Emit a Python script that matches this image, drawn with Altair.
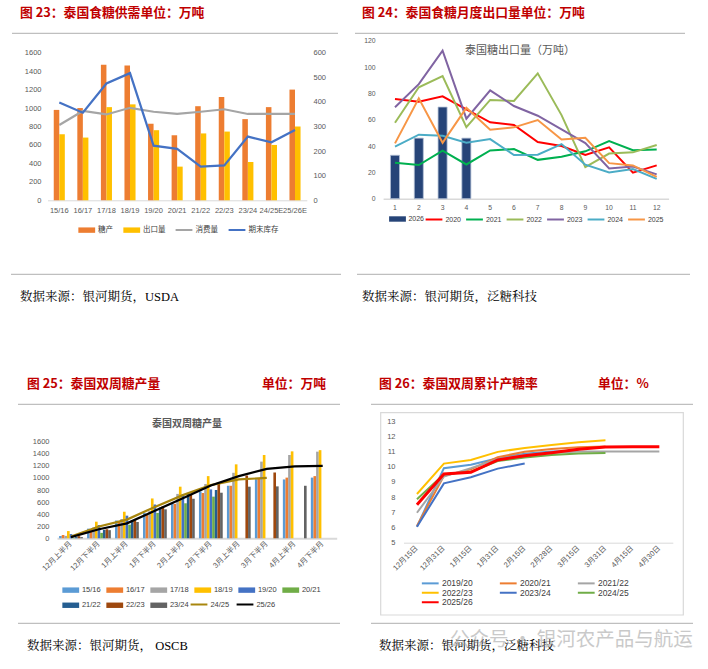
import altair as alt
import pandas as pd

# ---------------- data: 图23 泰国食糖供需 ----------------
p1_years = ["15/16", "16/17", "17/18", "18/19", "19/20", "20/21", "21/22", "22/23", "23/24", "24/25E", "25/26E"]
p1_production = [980, 1000, 1470, 1460, 830, 705, 1020, 1120, 880, 1010, 1200]
p1_export = [715, 680, 1010, 1040, 760, 365, 725, 745, 415, 600, 800]
p1_consumption = [306, 363, 349, 376, 360, 351, 360, 370, 351, 351, 351]
p1_stock = [398, 356, 475, 517, 222, 209, 137, 142, 259, 236, 286]
p1_bar_names = ["糖产", "出口量"]
p1_line_names = ["消费量", "期末库存"]
p1_left_ticks = [0, 200, 400, 600, 800, 1000, 1200, 1400, 1600]
p1_right_ticks = [0, 100, 200, 300, 400, 500, 600]

# ---------------- data: 图24 泰国食糖月度出口量 ----------------
p2_months = [1, 2, 3, 4, 5, 6, 7, 8, 9, 10, 11, 12]
p2_2026 = [33, 46, 69.6, 46]
p2_2020 = [75.7, 73.7, 77.7, 67.8, 58, 56, 43, 40, 33.2, 39, 19.8, 25.3]
p2_2021 = [27.3, 25.6, 36.5, 26, 36.7, 37.7, 29.5, 31.8, 36, 43.7, 36.8, 37.3]
p2_2022 = [57.7, 84.6, 93.2, 54.4, 75, 74.2, 95.2, 63.5, 24, 34.3, 35.2, 40.8]
p2_2023 = [69.4, 87, 112.4, 60.8, 82.3, 70.4, 63, 52.6, 42.2, 23, 24.5, 18.5]
p2_2024 = [39.5, 48.6, 47.8, 42.5, 45.3, 33.2, 33.4, 41.5, 25.8, 20, 22.5, 15]
p2_2025 = [42, 76.2, 42.5, 69, 52.4, 54.2, 59.7, 45, 46.3, 27, 25.3, 16.6]
p2_line_names = ["2020", "2021", "2022", "2023", "2024", "2025"]
p2_ticks = [0, 20, 40, 60, 80, 100, 120]

# ---------------- data: 图25 泰国双周糖产量 ----------------
p3_periods = ["12月上半月", "12月下半月", "1月上半月", "1月下半月", "2月上半月",
              "2月下半月", "3月上半月", "3月下半月", "4月上半月", "4月下半月"]
p3_bar_names = ["15/16", "16/17", "17/18", "18/19", "19/20", "20/21", "21/22", "22/23", "23/24"]
p3_1516 = [40, 160, 295, 420, 580, 775, 870, 980, 975, 1005]
p3_1617 = [55, 135, 280, 400, 570, 750, 870, 1000, 1005, 1030]
p3_1718 = [40, 180, 320, 450, 735, 900, 1085, 1270, 1380, 1435]
p3_1819 = [120, 275, 440, 660, 855, 1030, 1225, 1380, 1440, 1460]
p3_1920 = [70, 220, 375, 560, 730, 810]
p3_2021 = [10, 90, 225, 420, 580, 690]
p3_2122 = [20, 140, 300, 510, 740, 800]
p3_2223 = [35, 150, 300, 530, 730, 900, 1040, 1090]
p3_2324 = [20, 135, 270, 480, 655, 755, 855, 860, 870]
p3_line_names = ["24/25", "25/26"]
p3_2425 = [30, 195, 310, 520, 715, 880, 975, 1000]
p3_2526 = [20, 150, 248, 455, 665, 875, 1030, 1150, 1190, 1200]
p3_ticks = [0, 200, 400, 600, 800, 1000, 1200, 1400, 1600]

# ---------------- data: 图26 泰国双周累计产糖率 ----------------
p4_dates = ["12月15日", "12月31日", "1月15日", "1月31日", "2月15日",
            "2月28日", "3月15日", "3月31日", "4月15日", "4月30日"]
p4_names = ["2019/20", "2020/21", "2021/22", "2022/23", "2023/24", "2024/25", "2025/26"]
p4_1920 = [6.05, 9.9, 10.13, 10.55, 10.85, 11.0, 11.05]
p4_2021 = [6.1, 9.4, 9.82, 10.62, 10.98, 11.16, 11.27, 11.32]
p4_2122 = [6.97, 9.35, 9.9, 10.5, 10.77, 10.9, 11.0, 11.0, 11.0, 11.0]
p4_2223 = [8.2, 10.2, 10.44, 10.97, 11.23, 11.43, 11.6, 11.73]
p4_2324 = [6.05, 8.9, 9.3, 9.87, 10.2]
p4_2425 = [7.85, 9.5, 9.67, 10.37, 10.6, 10.77, 10.86, 10.9]
p4_2526 = [7.5, 9.52, 9.63, 10.44, 10.72, 10.92, 11.14, 11.29, 11.3, 11.3]
p4_ticks = [5, 6, 7, 8, 9, 10, 11, 12, 13]

# ---------------- styling helpers ----------------
LATIN = "Liberation Sans, Noto Sans CJK SC"
CJK = "Noto Sans CJK SC"
SERIF = "Liberation Serif, Noto Serif CJK SC, Noto Sans CJK SC"
RED = "#C00000"
LABEL = "#595959"
SEP = "#BFBFBF"
PW, TH, BH = 354, 335, 334

RECT = "M-2.8,-0.9L2.8,-0.9L2.8,0.9L-2.8,0.9Z"
LINE = "M-2.8,0L2.8,0"

one = alt.Data(values=[{"a": 1}])


def txt(s, x, y, size, color, weight="normal", font=CJK, align="left", opacity=1.0):
    return alt.Chart(one).mark_text(text=s, align=align, baseline="middle", font=font,
                                    fontSize=size, fontWeight=weight, color=color,
                                    opacity=opacity).encode(x=alt.value(x), y=alt.value(y))


def hline(x1, x2, y, color=SEP, w=1.2):
    return alt.Chart(one).mark_rule(color=color, strokeWidth=w).encode(
        x=alt.value(x1), x2=alt.value(x2), y=alt.value(y))


def canvas(w, h):
    return alt.Chart(one).mark_rect(fill="white", opacity=0).encode(
        x=alt.value(0), x2=alt.value(w), y=alt.value(0), y2=alt.value(h))


def xaxis(offset, size, angle=None, pad=5, dw=1.0):
    kw = dict(title=None, ticks=False, grid=False, domainColor="#D9D9D9", domainWidth=dw,
              labelFont=LATIN, labelFontSize=size, labelColor=LABEL, offset=offset,
              labelPadding=pad, labelOverlap=False)
    if angle is None:
        kw["labelAngle"] = 0
    else:
        kw.update(labelAngle=angle, labelAlign="right", labelBaseline="middle")
    return alt.Axis(**kw)


def yaxis(offset, values, size, orient="left"):
    return alt.Axis(title=None, orient=orient, values=values, format="d", domain=False, ticks=False,
                    grid=False, labelFont=LATIN, labelFontSize=size, labelColor=LABEL,
                    offset=offset, labelPadding=4, labelOverlap=False)


def legend(x, y, rect=True, cols=None, size=7.0, offset=7.4, colpad=6.0, rowpad=2.0):
    kw = dict(orient="none", legendX=x, legendY=y, direction="horizontal", title=None,
              symbolType=RECT if rect else LINE, symbolSize=36, labelFont=LATIN,
              labelFontSize=size, labelColor="#404040", labelOffset=offset,
              columnPadding=colpad, rowPadding=rowpad, padding=0)
    kw["symbolStrokeWidth"] = 0 if rect else 2
    if cols:
        kw["columns"] = cols
    return alt.Legend(**kw)


def long(cats, names, series):
    rows = []
    for n, vals in zip(names, series):
        for c, v in zip(cats, vals):
            rows.append({"cat": c, "series": n, "value": v})
    return pd.DataFrame(rows)


# ---------------- panel 1 ----------------
df1b = long(p1_years, p1_bar_names, [p1_production, p1_export])
df1l = long(p1_years, p1_line_names, [p1_consumption, p1_stock])
x1s = alt.Scale(type="band", domain=p1_years, range=[47.5, 306.8], paddingInner=0.53, paddingOuter=0.265)
bars1 = alt.Chart(df1b).mark_bar().encode(
    x=alt.X("cat:N", sort=p1_years, scale=x1s, axis=xaxis(200.3 - TH, 7.5, pad=6)),
    xOffset=alt.XOffset("series:N", sort=p1_bar_names,
                        scale=alt.Scale(domain=p1_bar_names, paddingInner=0, paddingOuter=0)),
    y=alt.Y("value:Q", scale=alt.Scale(domain=[0, 1600], range=[200.3, 52.7], nice=False),
            axis=yaxis(-45, p1_left_ticks, 7.5)),
    fill=alt.Fill("series:N", sort=p1_bar_names,
                  scale=alt.Scale(domain=p1_bar_names, range=["#ED7D31", "#FFC000"]),
                  legend=legend(83, 226, True, size=7.5, colpad=10)),
)
lines1 = alt.Chart(df1l).mark_line(strokeWidth=2.2).encode(
    x=alt.X("cat:N", sort=p1_years, scale=x1s),
    y=alt.Y("value:Q", scale=alt.Scale(domain=[0, 600], range=[200.3, 52.7], nice=False),
            axis=yaxis(-45, p1_right_ticks, 7.5, orient="right")),
    stroke=alt.Stroke("series:N", sort=p1_line_names,
                      scale=alt.Scale(domain=p1_line_names, range=["#A5A5A5", "#4472C4"]),
                      legend=legend(180, 226, False, size=7.5, colpad=6)),
)
p1 = alt.layer(
    canvas(PW, TH), bars1, lines1,
    txt("图 23：泰国食糖供需单位：万吨", 20, 13, 12.8, RED, "bold"),
    hline(12, 338, 33.3), hline(11, 341, 274.3),
    txt("数据来源：银河期货，USDA", 20, 297, 12.5, "black", font=SERIF),
).resolve_scale(y="independent").properties(width=PW, height=TH)

# ---------------- panel 2 ----------------
df2b = pd.DataFrame({"cat": p2_months[:len(p2_2026)], "series": ["2026"] * len(p2_2026), "value": p2_2026})
df2l = long(p2_months, p2_line_names, [p2_2020, p2_2021, p2_2022, p2_2023, p2_2024, p2_2025])
x2s = alt.Scale(type="band", domain=p2_months, range=[29.1, 314.6], paddingInner=0.62, paddingOuter=0.31)
y2s = alt.Scale(domain=[0, 120], range=[198.7, 40.7], nice=False)
bars2 = alt.Chart(df2b).mark_bar(stroke="#B4C0D6", strokeWidth=0.8).encode(
    x=alt.X("cat:O", sort=p2_months, scale=x2s, axis=xaxis(198.7 - TH, 6.8, pad=6, dw=1.5)),
    y=alt.Y("value:Q", scale=y2s, axis=yaxis(-25, p2_ticks, 6.8)),
    fill=alt.Fill("series:N", scale=alt.Scale(domain=["2026"], range=["#264478"]),
                  legend=legend(40, 215.5, True, size=7, colpad=5)),
)
lines2 = alt.Chart(df2l).mark_line(strokeWidth=2).encode(
    x=alt.X("cat:O", sort=p2_months, scale=x2s),
    y=alt.Y("value:Q", scale=y2s),
    stroke=alt.Stroke("series:N", sort=p2_line_names,
                      scale=alt.Scale(domain=p2_line_names,
                                      range=["#FF0000", "#00B050", "#9BBB59", "#8064A2", "#4BACC6", "#F79646"]),
                      legend=legend(76, 215.5, False, size=7, colpad=0.5)),
)
p2 = alt.layer(
    canvas(PW, TH), bars2, lines2,
    txt("泰国糖出口量（万吨）", 166, 50.7, 11, LABEL, align="center"),
    txt("图 24：泰国食糖月度出口量单位：万吨", 8, 13, 12.8, RED, "bold"),
    hline(1, 331, 33.3), hline(3, 336, 274.3),
    txt("数据来源：银河期货，泛糖科技", 8, 297, 12.5, "black", font=SERIF),
).properties(width=PW, height=TH)

# ---------------- panel 3 ----------------
df3b = long(p3_periods, p3_bar_names,
            [p3_1516, p3_1617, p3_1718, p3_1819, p3_1920, p3_2021, p3_2122, p3_2223, p3_2324])
df3l = long(p3_periods, p3_line_names, [p3_2425, p3_2526])
x3s = alt.Scale(type="band", domain=p3_periods, range=[57, 336.7], paddingInner=0.15, paddingOuter=0.075)
y3s = alt.Scale(domain=[0, 1600], range=[203.3, 106.7], nice=False)
bars3 = alt.Chart(df3b).mark_bar().encode(
    x=alt.X("cat:N", sort=p3_periods, scale=x3s, axis=xaxis(203.3 - BH, 7.5, angle=315, pad=4, dw=2)),
    xOffset=alt.XOffset("series:N", sort=p3_bar_names,
                        scale=alt.Scale(domain=p3_bar_names, paddingInner=0, paddingOuter=0)),
    y=alt.Y("value:Q", scale=y3s, axis=yaxis(-53, p3_ticks, 7.5)),
    fill=alt.Fill("series:N", sort=p3_bar_names,
                  scale=alt.Scale(domain=p3_bar_names,
                                  range=["#5B9BD5", "#ED7D31", "#A5A5A5", "#FFC000", "#4472C4",
                                         "#70AD47", "#255E91", "#9E480E", "#636363"]),
                  legend=legend(67, 251, True, cols=6, size=7.5, colpad=5, rowpad=6.5)),
)
lines3 = alt.Chart(df3l).mark_line(strokeWidth=2.2).encode(
    x=alt.X("cat:N", sort=p3_periods, scale=x3s),
    y=alt.Y("value:Q", scale=y3s),
    stroke=alt.Stroke("series:N", sort=p3_line_names,
                      scale=alt.Scale(domain=p3_line_names, range=["#A8860E", "#000000"]),
                      legend=legend(195, 265.5, False, size=7.5, colpad=2)),
)
p3 = alt.layer(
    canvas(PW, BH), bars3, lines3,
    txt("泰国双周糖产量", 187, 89.3, 10, LABEL, "bold", align="center"),
    txt("图 25：泰国双周糖产量", 27, 49, 12.8, RED, "bold"),
    txt("单位：万吨", 326, 49, 12.8, RED, "bold", align="right"),
    hline(18, 340, 69.3), hline(18, 340, 288.3),
    txt("数据来源：银河期货， OSCB", 27, 311, 12.5, "black", font=SERIF),
).properties(width=PW, height=BH)

# ---------------- panel 4 ----------------
df4 = long(p4_dates, p4_names, [p4_1920, p4_2021, p4_2122, p4_2223, p4_2324, p4_2425, p4_2526])
x4s = alt.Scale(type="band", domain=p4_dates, range=[49.5, 318.8], paddingInner=0, paddingOuter=0)
box4 = alt.Chart(one).mark_rect(fill="white", fillOpacity=0, stroke="#D9D9D9", strokeWidth=1.2).encode(
    x=alt.value(26.7), x2=alt.value(329.3), y=alt.value(77.7), y2=alt.value(280))
lines4 = alt.Chart(df4).mark_line().encode(
    x=alt.X("cat:N", sort=p4_dates, scale=x4s, axis=xaxis(207.7 - BH, 7.5, angle=315, pad=4)),
    y=alt.Y("value:Q", scale=alt.Scale(domain=[5, 13], range=[207.7, 86], nice=False, zero=False),
            axis=yaxis(-45, p4_ticks, 7.5)),
    stroke=alt.Stroke("series:N", sort=p4_names,
                      scale=alt.Scale(domain=p4_names,
                                      range=["#5B9BD5", "#ED7D31", "#A5A5A5", "#FFC000", "#4472C4",
                                             "#70AD47", "#FF0000"]),
                      legend=legend(72, 244, False, cols=3, size=8.5, colpad=22, rowpad=0.5)),
    strokeWidth=alt.condition(alt.datum.series == "2025/26", alt.value(3), alt.value(2)),
)
p4 = alt.layer(
    canvas(PW, BH), box4, lines4,
    txt("图 26：泰国双周累计产糖率", 25, 49, 12.8, RED, "bold"),
    txt("单位：%", 244, 49, 12.8, RED, "bold"),
    hline(17, 339, 69.3), hline(17, 339, 288.3),
    txt("数据来源：银河期货，泛糖科技", 25, 311, 12.5, "black", font=SERIF),
    txt("公众号 · 银河农产品与航运", 96, 305, 19.5, "#9E9E9E", opacity=0.55),
).properties(width=PW, height=BH)

chart = alt.concat(p1, p2, p3, p4, columns=2, spacing=0, bounds="flush") \
    .resolve_scale(fill="independent", stroke="independent", xOffset="independent") \
    .resolve_legend(fill="independent", stroke="independent") \
    .properties(padding=0, background="white").configure_view(strokeWidth=0)

chart.save("out.html", embed_options={"renderer": "svg", "actions": False})
